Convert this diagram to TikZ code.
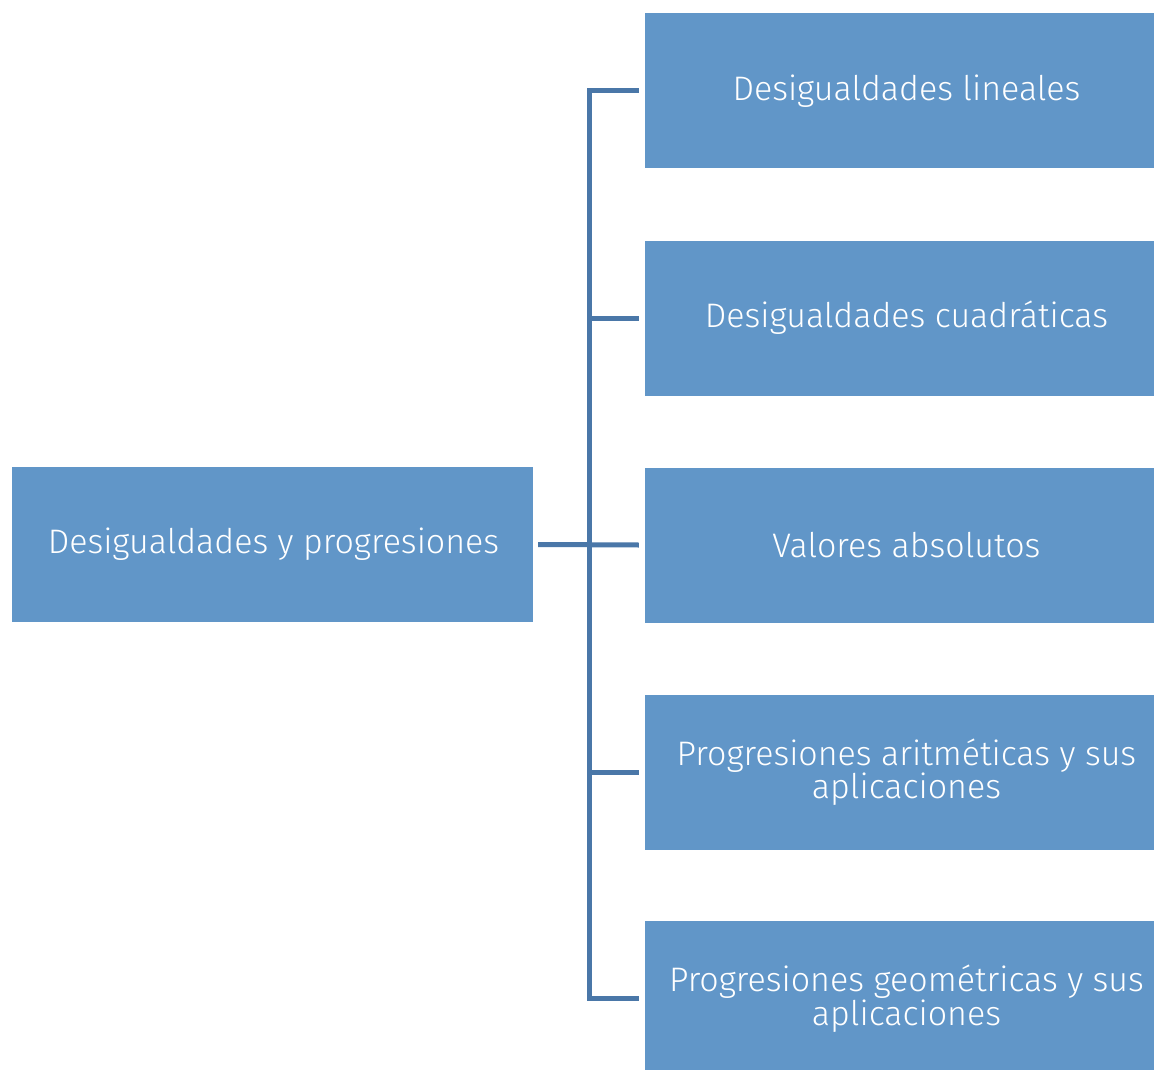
\documentclass[tikz,border=0pt]{standalone}
\usepackage{fontspec}
\setmainfont{Fira Sans Light}
\definecolor{boxfill}{HTML}{6196C8}
\definecolor{linecol}{HTML}{4A77A8}
\newcommand{\rs}{\hspace*{14pt}}
\begin{document}
\begin{tikzpicture}[x=1pt,y=-1pt,
  box/.style={fill=boxfill,draw=none,text=white,align=center,font=\fontsize{34}{32}\selectfont,inner sep=0pt},
  conn/.style={draw=linecol,line width=5pt}]
\useasboundingbox (0,0) rectangle (1154,1070);
\node[box,minimum width=521pt,minimum height=155pt] (root) at (272.5,544.5) {\hspace*{2pt}Desigualdades y progresiones};
\node[box,minimum width=509pt,minimum height=155pt] (c1) at (899.5,91) {\rs Desigualdades lineales};
\node[box,minimum width=509pt,minimum height=155pt] (c2) at (899.5,318) {\rs Desigualdades cuadráticas};
\node[box,minimum width=509pt,minimum height=155pt] (c3) at (899.5,545) {\rs Valores absolutos};
\node[box,minimum width=509pt,minimum height=155pt] (c4) at (899.5,772) {\rs Progresiones aritméticas y sus\\\rs aplicaciones};
\node[box,minimum width=509pt,minimum height=155pt] (c5) at (899.5,998.5) {\rs Progresiones geométricas y sus\\\rs aplicaciones};
\coordinate (top) at (589.5,90.5);
\coordinate (bot) at (589.5,998.5);
\draw[conn] ([xshift=5pt]root.east) -- ([xshift=-6pt]c3.west);
\draw[conn] ([xshift=-6pt]c1.west|-top) -- (top) -- (bot) -- ([xshift=-6pt]c5.west);
\draw[conn] (589.5,318) -- ([xshift=-6pt]c2.west);
\draw[conn] (589.5,772) -- ([xshift=-6pt]c4.west);
\end{tikzpicture}
\end{document}
